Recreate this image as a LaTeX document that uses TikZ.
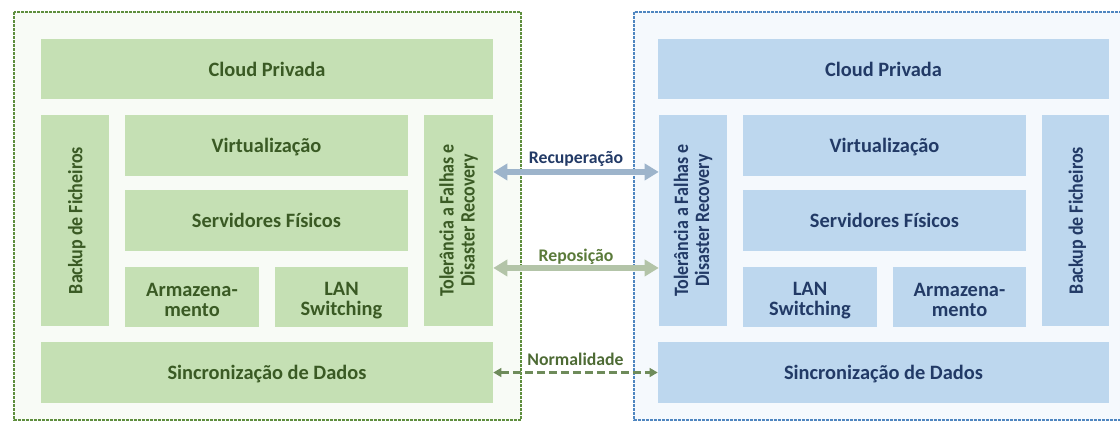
\documentclass[tikz,border=0pt]{standalone}
\usepackage{fontspec}
\setmainfont{Carlito}
\usetikzlibrary{arrows.meta}
\definecolor{gfill}{HTML}{C5E0B4}
\definecolor{bfill}{HTML}{BDD7EE}
\definecolor{gtext}{HTML}{3A5A24}
\definecolor{btext}{HTML}{223A66}
\definecolor{gbg}{HTML}{F8FBF6}
\definecolor{bbg}{HTML}{F5F9FD}
\definecolor{gborder}{HTML}{5E8E3E}
\definecolor{bborder}{HTML}{4F86C0}
\definecolor{recarrow}{HTML}{9DB4CB}
\definecolor{reparrow}{HTML}{B3C4A8}
\definecolor{normarrow}{HTML}{6E8B5A}
\definecolor{replabel}{HTML}{5A7A3A}
\definecolor{normlabel}{HTML}{4E6B35}
\newcommand{\topstrut}{\rule{0pt}{15pt}}
\tikzset{
  blk/.style={inner sep=0pt, align=center, font=\bfseries\fontsize{15.3}{15}\selectfont},
  oneline/.style={text height=11pt, text depth=0pt},
  vert/.style={rotate=90, font=\bfseries\fontsize{15.3}{15.8}\selectfont\addfontfeatures{FakeStretch=0.88}},
  gbox/.style={blk, fill=gfill, text=gtext},
  bbox/.style={blk, fill=bfill, text=btext},
  cont/.style={line width=0.8pt, dash pattern=on 2pt off 1pt},
  bigarrow/.style={line width=3.8pt, {Triangle[length=10.5pt,width=12pt]}-{Triangle[length=10.5pt,width=12pt]}},
  lbl/.style={font=\bfseries\fontsize{13.3}{14}\selectfont, inner sep=1pt},
}
\begin{document}
\begin{tikzpicture}[x=0.75pt,y=-0.75pt]
\useasboundingbox (0,0) rectangle (1120,422);
\begin{scope}
\clip (0,0) rectangle (1120,422);
% containers
\path[fill=gbg, draw=gborder, cont] (14,12) rectangle (521,420);
\path[fill=bbg, draw=bborder, cont] (634,12) rectangle (1130,420);
\end{scope}
% left side
\node[gbox, oneline, minimum width=339pt, minimum height=45pt] (lcloud) at (267,69) {Cloud Privada};
\node[gbox, vert, oneline, minimum width=158.25pt, minimum height=51pt] (lbackup) at (75,220.5) {Backup de Ficheiros};
\node[gbox, oneline, minimum width=212.25pt, minimum height=45.75pt] (lvirt) at (266.5,145.5) {Virtualização};
\node[gbox, oneline, minimum width=212.25pt, minimum height=45.75pt] (lserv) at (266.5,220.5) {Servidores Físicos};
\node[gbox, minimum width=100.5pt, minimum height=45pt] (larm) at (192,297) {\topstrut Armazena-\\mento};
\node[gbox, minimum width=99.75pt, minimum height=45pt] (llan) at (341.5,297) {\topstrut LAN\\Switching};
\node[gbox, vert, minimum width=158.25pt, minimum height=51.75pt] (ltol) at (458.5,220.5) {Tolerância a Falhas e\\Disaster Recovery};
\node[gbox, oneline, minimum width=339pt, minimum height=45.75pt] (lsync) at (267,372.5) {Sincronização de Dados};
% right side
\node[bbox, oneline, minimum width=338.25pt, minimum height=45pt] (rcloud) at (883.5,69) {Cloud Privada};
\node[bbox, vert, minimum width=158.25pt, minimum height=51pt] (rtol) at (693,220.5) {Tolerância a Falhas e\\Disaster Recovery};
\node[bbox, oneline, minimum width=212.25pt, minimum height=45.75pt] (rvirt) at (884.5,145.5) {Virtualização};
\node[bbox, oneline, minimum width=212.25pt, minimum height=45.75pt] (rserv) at (884.5,220.5) {Servidores Físicos};
\node[bbox, minimum width=100.5pt, minimum height=45pt] (rlan) at (810,297) {\topstrut LAN\\Switching};
\node[bbox, minimum width=99.75pt, minimum height=45pt] (rarm) at (959.5,297) {\topstrut Armazena-\\mento};
\node[bbox, vert, oneline, minimum width=158.25pt, minimum height=50.25pt] (rbackup) at (1075.5,220.5) {Backup de Ficheiros};
\node[bbox, oneline, minimum width=338.25pt, minimum height=45.75pt] (rsync) at (883.5,372.5) {Sincronização de Dados};
% connectors
\draw[bigarrow, recarrow] ([yshift=36.4pt]ltol.south) -- ([yshift=36.4pt]rtol.north)
  node[midway, above=1.5pt, lbl, text=btext] (lrec) {Recuperação};
\draw[bigarrow, reparrow] ([yshift=-35.6pt]ltol.south) -- ([yshift=-35.6pt]rtol.north)
  node[midway, above=0pt, lbl, text=replabel] (lrep) {Reposição};
\draw[normarrow, line width=1.6pt, dash pattern=on 6pt off 3pt, {Triangle[length=6pt,width=6.5pt]}-{Triangle[length=6pt,width=6.5pt]}] (lsync.east) -- (rsync.west)
  node[midway, above=3pt, lbl, text=normlabel] (lnorm) {Normalidade};
\end{tikzpicture}
\end{document}
